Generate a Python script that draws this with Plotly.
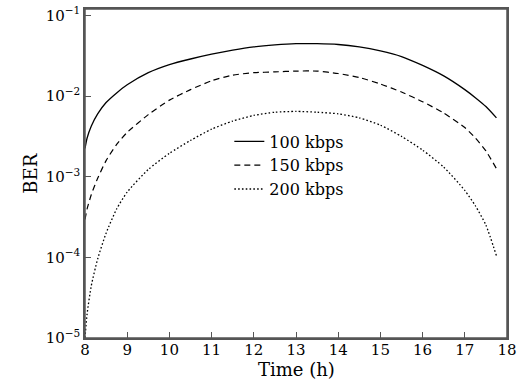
import plotly.graph_objects as go

hours = [8, 8.05, 8.15, 8.3, 8.5, 8.75, 9, 9.5, 10, 10.5, 11, 11.5, 12, 12.5, 13,
         13.5, 14, 14.5, 15, 15.5, 16, 16.5, 17, 17.25, 17.5, 17.75]
ber_100 = [2.239e-3, 3.020e-3, 4.266e-3, 6.026e-3, 8.318e-3, 1.096e-2, 1.380e-2,
           1.950e-2, 2.455e-2, 2.884e-2, 3.311e-2, 3.715e-2, 4.074e-2, 4.315e-2,
           4.467e-2, 4.467e-2, 4.365e-2, 4.074e-2, 3.631e-2, 3.090e-2, 2.399e-2,
           1.778e-2, 1.202e-2, 9.550e-3, 7.413e-3, 5.370e-3]
ber_150 = [2.951e-4, 3.981e-4, 6.026e-4, 9.550e-4, 1.585e-3, 2.512e-3, 3.548e-3,
           5.888e-3, 8.913e-3, 1.202e-2, 1.549e-2, 1.820e-2, 1.950e-2, 1.995e-2,
           2.042e-2, 2.042e-2, 1.905e-2, 1.698e-2, 1.413e-2, 1.122e-2, 8.511e-3,
           6.166e-3, 4.074e-3, 3.020e-3, 2.089e-3, 1.259e-3]
ber_200 = [1.0e-5, 1.995e-5, 4.467e-5, 9.550e-5, 1.995e-4, 3.981e-4, 6.457e-4,
           1.230e-3, 1.950e-3, 2.818e-3, 3.890e-3, 4.898e-3, 5.754e-3, 6.310e-3,
           6.457e-3, 6.310e-3, 6.026e-3, 5.370e-3, 4.365e-3, 3.162e-3, 2.138e-3,
           1.318e-3, 6.761e-4, 4.365e-4, 2.512e-4, 1.047e-4]
series_names = ["100 kbps", "150 kbps", "200 kbps"]
y_tickvals = [1e-5, 1e-4, 1e-3, 1e-2, 1e-1]
y_ticktext = ["10<sup>\u22125</sup>", "10<sup>\u22124</sup>", "10<sup>\u22123</sup>",
              "10<sup>\u22122</sup>", "10<sup>\u22121</sup>"]
x_tickvals = list(range(8, 19))

FONT = "DejaVu Serif"
fig = go.Figure()
styles = [dict(dash="solid", width=1.3), dict(dash="6px,4px", width=1.2),
          dict(dash="1.6px,2.2px", width=1.3)]
for name, ys, st in zip(series_names, [ber_100, ber_150, ber_200], styles):
    fig.add_trace(go.Scatter(x=hours, y=ys, name=name, mode="lines",
                             line=dict(color="black", shape="spline", smoothing=0.6, **st)))

axis_common = dict(showline=True, linecolor="#555", linewidth=1.5, mirror=True,
                   ticks="inside", ticklen=6, tickcolor="#555", tickwidth=1.2,
                   showgrid=False, zeroline=False, automargin=False,
                   ticklabeloverflow="allow",
                   tickfont=dict(family=FONT, size=15, color="black"))
fig.update_xaxes(range=[8, 18], tickvals=x_tickvals, ticklabelstandoff=-3, **axis_common)
fig.update_yaxes(type="log", range=[-5, -0.92], tickvals=y_tickvals, ticktext=y_ticktext,
                 **axis_common)
fig.update_layout(
    width=518, height=383,
    margin=dict(l=85, r=11, t=9, b=45),
    plot_bgcolor="white", paper_bgcolor="white",
    showlegend=True,
    legend=dict(x=0.342, y=0.649, xanchor="left", yanchor="top",
                bgcolor="rgba(0,0,0,0)", itemwidth=30, tracegroupgap=0,
                font=dict(family=FONT, size=16, color="black")),
    shapes=[dict(type="rect", xref="paper", yref="paper", x0=0, x1=1, y0=0, y1=1,
                 line=dict(color="#555", width=1.5), layer="above")],
    annotations=[
        dict(text="Time (h)", xref="paper", yref="paper", x=0.5, y=-0.095,
             xanchor="center", yanchor="middle", showarrow=False,
             font=dict(family=FONT, size=18, color="black")),
        dict(text="BER", xref="paper", yref="paper", x=-0.13, y=0.5,
             xanchor="center", yanchor="middle", showarrow=False, textangle=-90,
             font=dict(family=FONT, size=18, color="black")),
    ],
)
fig.write_html("out.html", config={"displayModeBar": False},
               post_script="document.body.style.margin='0';document.body.style.overflow='hidden';")
